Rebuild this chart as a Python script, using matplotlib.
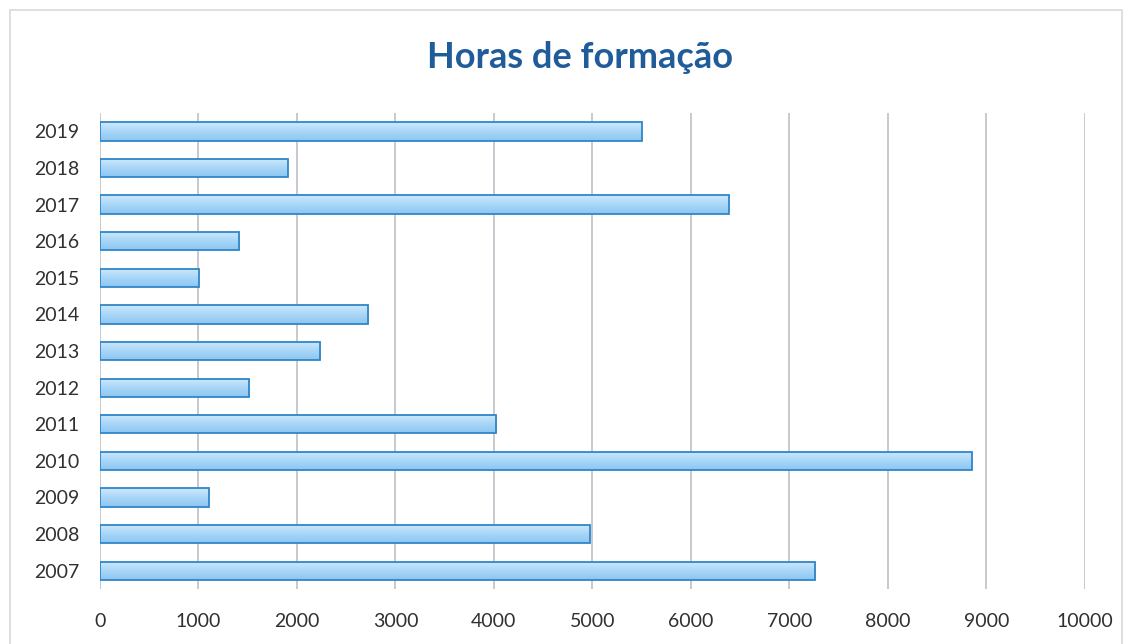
import matplotlib
matplotlib.use("Agg")
import numpy as np
import matplotlib.pyplot as plt
from matplotlib.colors import LinearSegmentedColormap
from matplotlib.patches import Rectangle

years = ['2007', '2008', '2009', '2010', '2011', '2012', '2013',
         '2014', '2015', '2016', '2017', '2018', '2019']
hours = [7265, 4975, 1105, 8850, 4025, 1515, 2235,
         2725, 1005, 1415, 6385, 1905, 5500]
xticks = [0, 1000, 2000, 3000, 4000, 5000, 6000, 7000, 8000, 9000, 10000]

plt.rcParams['font.family'] = ['Lato', 'DejaVu Sans']

fig = plt.figure(figsize=(11.32, 6.44), dpi=100)
fig.patches.append(Rectangle((0.009, -0.02), 0.982, 1.005, transform=fig.transFigure,
                             fill=False, edgecolor='#d9d9d9', linewidth=1.2))
ax = fig.add_axes([0.0883, 0.0854, 0.870, 0.739])

ypos = list(range(len(years)))
bars = ax.barh(ypos, hours, height=0.5, color='none', edgecolor='#2f86c8',
               linewidth=1.3, zorder=4)

# vertical gradient inside each bar (deeper blue at bottom, light top)
cmap = LinearSegmentedColormap.from_list('bar', ['#8cc6f1', '#a9d6f8', '#cde9fc'])
grad = np.linspace(0, 1, 64).reshape(-1, 1)
for b in bars:
    x0, y0 = b.get_x(), b.get_y()
    im = ax.imshow(grad, cmap=cmap, aspect='auto', origin='lower',
                   extent=[x0, x0 + b.get_width(), y0, y0 + b.get_height()],
                   zorder=3)
    im.set_clip_path(b)

ax.set_xlim(0, 10000)
ax.set_ylim(-0.5, len(years) - 0.5)
ax.set_xticks(xticks)
ax.set_xticklabels([str(v) for v in xticks])
ax.set_yticks(ypos)
ax.set_yticklabels(years)
ax.tick_params(axis='both', length=0, labelsize=14, colors='#303030')
ax.tick_params(axis='x', pad=17)
ax.tick_params(axis='y', pad=15)
ax.grid(axis='x', color='#c4c4cc', linewidth=1.3, zorder=0)
for s in ax.spines.values():
    s.set_visible(False)

fig.text(0.512, 0.910, 'Horas de formação', ha='center', va='center',
         fontsize=26, fontweight='bold', color='#1f5c99')

fig.savefig('out.png', dpi=100)
